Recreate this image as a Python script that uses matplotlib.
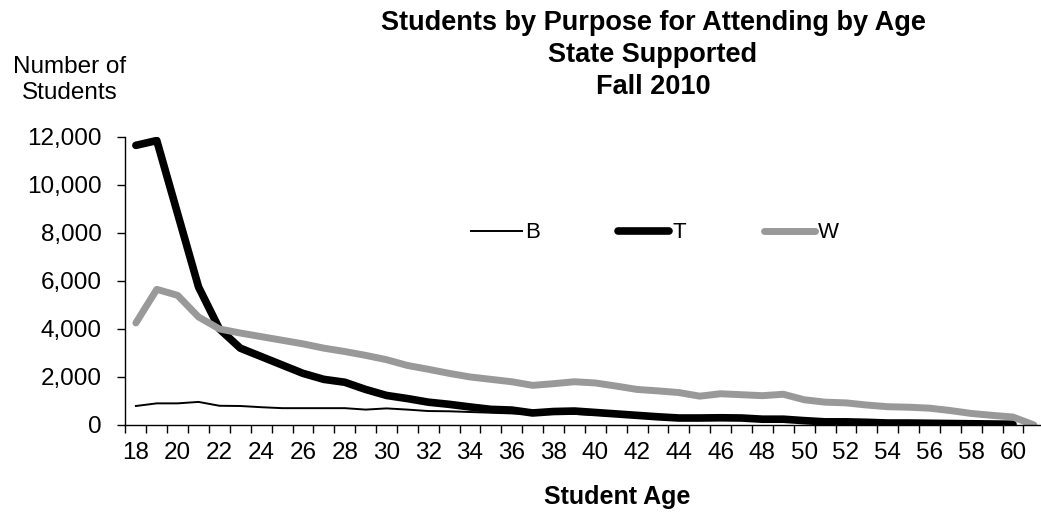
import matplotlib.pyplot as plt
from matplotlib.ticker import FuncFormatter, MultipleLocator, FixedLocator

plt.rcParams['font.family'] = ['Liberation Sans', 'DejaVu Sans']

# ages 18..60 (plus one trailing slot after 60)
ages = list(range(18, 61))
ages_w = list(range(18, 62))

b_vals = [790, 900, 900, 960, 800, 790, 740, 700, 700, 700, 700, 640, 690, 640, 580,
          570, 540, 510, 480, 450, 470, 460, 420, 380, 350, 310, 280, 270, 260, 240,
          220, 200, 170, 150, 130, 110, 100, 90, 80, 70, 60, 50, 40]
t_vals = [11650, 11850, 8800, 5750, 4000, 3200, 2850, 2500, 2150, 1900, 1780, 1480,
          1230, 1100, 950, 860, 750, 650, 620, 500, 560, 580, 520, 460, 400, 340, 290,
          290, 300, 290, 240, 240, 180, 130, 130, 110, 80, 80, 70, 60, 50, 40, 30]
w_vals = [4250, 5650, 5400, 4500, 4000, 3830, 3680, 3530, 3380, 3200, 3060, 2900,
          2720, 2480, 2320, 2150, 2000, 1900, 1800, 1650, 1720, 1800, 1750, 1620, 1480,
          1420, 1350, 1200, 1300, 1260, 1220, 1280, 1050, 950, 920, 830, 760, 740, 700,
          600, 480, 400, 330, 0]

fig = plt.figure(figsize=(10.41, 5.12), dpi=100)
ax = fig.add_axes([0.1205, 0.170, 0.8795, 0.5625])

ax.plot(ages, b_vals, color='black', lw=1.4, label='B')
ax.plot(ages, t_vals, color='black', lw=5.5, solid_capstyle='round', label='T')
ax.plot(ages_w, w_vals, color='#999999', lw=5.0, solid_capstyle='round', label='W')

ax.set_xlim(17.5, 61.34)
ax.set_ylim(0, 12000)

ax.yaxis.set_major_locator(MultipleLocator(2000))
ax.yaxis.set_major_formatter(FuncFormatter(lambda v, p: f"{int(v):,}"))
ax.xaxis.set_major_locator(FixedLocator(list(range(18, 61, 2))))
ax.xaxis.set_minor_locator(FixedLocator([a + 0.5 for a in range(17, 61)]))
ax.tick_params(axis='x', which='major', length=0, labelsize=17.5, pad=12)
ax.tick_params(axis='x', which='minor', length=6, width=1, direction='out')
ax.tick_params(axis='y', length=6, width=1, direction='out', labelsize=17.5, pad=11)

for side in ['top', 'right']:
    ax.spines[side].set_visible(False)
for side in ['left', 'bottom']:
    ax.spines[side].set_linewidth(1.0)

ax.legend(loc='center', ncol=3, frameon=False, fontsize=16,
          handlelength=2.3, columnspacing=3.5, handletextpad=0.15,
          bbox_to_anchor=(655 / 1041, 1 - 233 / 512), bbox_transform=fig.transFigure)

fig.text(653 / 1041, 1 - 55 / 512,
         "Students by Purpose for Attending by Age\nState Supported\nFall 2010",
         ha='center', va='center', fontsize=19.5, fontweight='bold', linespacing=1.3)
fig.text(70 / 1041, 1 - 80 / 512, "Number of\nStudents", ha='center', va='center',
         fontsize=17.5, linespacing=1.2)
fig.text(617 / 1041, 1 - 497 / 512, "Student Age", ha='center', va='center',
         fontsize=18, fontweight='bold')

fig.savefig('out.png', dpi=100)
